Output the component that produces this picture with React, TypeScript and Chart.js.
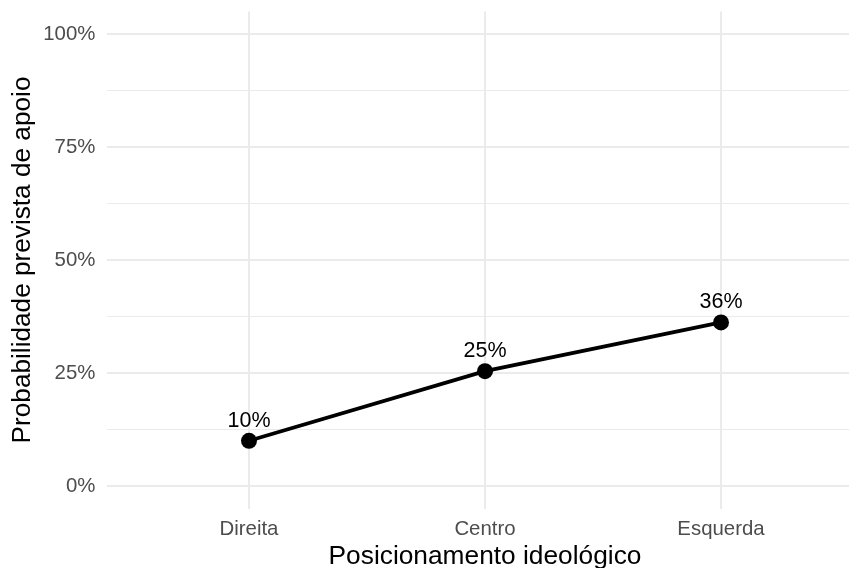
import React, { useEffect, useRef } from "react";
import { Chart, registerables } from "chart.js";

Chart.register(...registerables);

const categories = ["Direita", "Centro", "Esquerda"];
const probabilities = [0.1, 0.254, 0.362];
const yMajorTicks = [0, 0.25, 0.5, 0.75, 1];
const yTickLabels = ["0%", "25%", "50%", "75%", "100%"];
const yMinorTicks = [0.125, 0.375, 0.625, 0.875];
const xAxisTitle = "Posicionamento ideológico";
const yAxisTitle = "Probabilidade prevista de apoio";

const FONT = '"Liberation Sans", Arial, Helvetica, sans-serif';
const CANVAS_W = 880;
const CANVAS_H = 590;

const pointLabels = {
  id: "pointLabels",
  afterDatasetsDraw(chart: any) {
    const meta = chart.getDatasetMeta(0);
    const ctx = chart.ctx;
    ctx.save();
    ctx.font = `21.5px ${FONT}`;
    ctx.fillStyle = "#000000";
    ctx.textAlign = "center";
    ctx.textBaseline = "alphabetic";
    meta.data.forEach((pt: any, i: number) => {
      const label = Math.round(probabilities[i] * 100) + "%";
      ctx.fillText(label, pt.x, pt.y - 14);
    });
    ctx.restore();
  },
};

export default function App() {
  const ref = useRef<HTMLCanvasElement | null>(null);

  useEffect(() => {
    if (!ref.current) return;
    const chart = new Chart(ref.current, {
      type: "line",
      data: {
        datasets: [
          {
            data: categories.map((c, i) => ({ x: i + 1, y: probabilities[i] })),
            borderColor: "#000000",
            backgroundColor: "#000000",
            borderWidth: 3.8,
            pointRadius: 8,
            pointBorderWidth: 0,
            pointBackgroundColor: "#000000",
            tension: 0,
            fill: false,
          },
        ],
      },
      options: {
        animation: false,
        responsive: false,
        devicePixelRatio: 1,
        layout: { padding: { top: 11.4, right: CANVAS_W - 862.6, left: 0, bottom: 0 } },
        plugins: { legend: { display: false }, tooltip: { enabled: false } },
        font: { family: FONT },
        scales: {
          x: {
            type: "linear",
            min: 0.4,
            max: 3.6,
            afterBuildTicks: (scale: any) => {
              scale.ticks = categories.map((_, i) => ({ value: i + 1 }));
            },
            afterFit: (scale: any) => {
              scale.height = CANVAS_H - 508.6;
              scale.paddingLeft = 0;
              scale.paddingRight = 0;
            },
            ticks: {
              autoSkip: false,
              maxRotation: 0,
              padding: 8.6,
              color: "#4D4D4D",
              font: { family: FONT, size: 20.4 },
              callback: (v: any) => categories[Math.round(v) - 1] ?? "",
            },
            grid: {
              color: "#EBEBEB",
              lineWidth: 2,
              drawTicks: false,
            },
            border: { display: false },
            title: {
              display: true,
              text: xAxisTitle,
              color: "#000000",
              font: { family: FONT, size: 26.3 },
              padding: { top: 0, bottom: 17.4 },
            },
          },
          y: {
            type: "linear",
            min: -0.05,
            max: 1.05,
            afterBuildTicks: (scale: any) => {
              scale.ticks = [...yMajorTicks, ...yMinorTicks]
                .sort((a, b) => a - b)
                .map((v) => ({ value: v }));
            },
            afterFit: (scale: any) => {
              scale.width = 107.4;
              scale.paddingTop = 0;
              scale.paddingBottom = 0;
            },
            ticks: {
              autoSkip: false,
              padding: 12,
              color: "#4D4D4D",
              font: { family: FONT, size: 20.4 },
              callback: (v: any) => {
                const idx = yMajorTicks.findIndex((t) => Math.abs(t - v) < 1e-9);
                return idx >= 0 ? yTickLabels[idx] : "";
              },
            },
            grid: {
              color: "#EBEBEB",
              lineWidth: (ctx: any) => {
                const v = ctx.tick ? ctx.tick.value : 0;
                return yMajorTicks.some((t) => Math.abs(t - v) < 1e-9) ? 2 : 1;
              },
              drawTicks: false,
            },
            border: { display: false },
            title: {
              display: true,
              text: yAxisTitle,
              color: "#000000",
              font: { family: FONT, size: 26.2 },
              padding: { top: 7.5, bottom: 0 },
            },
          },
        },
      },
      plugins: [pointLabels],
    });
    return () => chart.destroy();
  }, []);

  return (
    <div
      style={{
        position: "absolute",
        left: 0,
        top: 0,
        width: 849,
        height: 568,
        overflow: "hidden",
        background: "#ffffff",
      }}
    >
      <canvas ref={ref} width={CANVAS_W} height={CANVAS_H} style={{ display: "block" }} />
    </div>
  );
}
